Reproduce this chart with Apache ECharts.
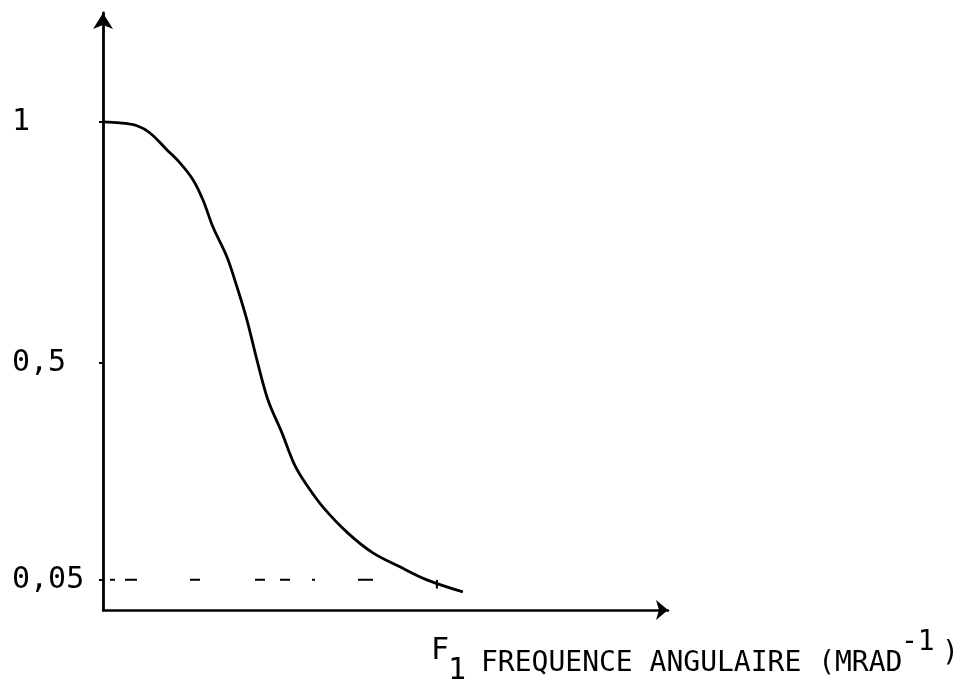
<!DOCTYPE html>
<html>
<head>
<meta charset="utf-8">
<script src="https://cdn.jsdelivr.net/npm/echarts@6/dist/echarts.min.js"></script>
<style>
html,body{margin:0;padding:0;background:#fff;}
#c{width:966px;height:687px;}
</style>
</head>
<body>
<div id="c"></div>
<script>
// Data (x in arbitrary frequency units, y = normalised response)
var curveX = [0, 0.304, 0.608, 0.841, 1.145, 1.377, 1.610, 1.789, 1.968, 2.218, 2.397, 2.576, 2.755, 2.952, 3.202, 3.435, 3.667, 3.936, 4.383, 4.830, 5.313, 5.796, 6.440];
var curveY = [1.0, 0.998, 0.992, 0.977, 0.942, 0.915, 0.880, 0.838, 0.782, 0.720, 0.658, 0.589, 0.506, 0.423, 0.355, 0.287, 0.243, 0.201, 0.147, 0.106, 0.077, 0.050, 0.025];
var yTickValues = [0.05, 0.5, 1];
var yTickLabels = ['0,05', '0,5', '1'];
var thresholdLevel = 0.05;
var thresholdX = [0.125, 5.993];
var crossingX = 5.975;

var curveData = curveX.map(function (x, i) { return [x, curveY[i]]; });

var chart = echarts.init(document.getElementById('c'));
var mono = '"DejaVu Sans Mono", monospace';
chart.setOption({
  animation: false,
  backgroundColor: '#fff',
  grid: { left: 103, right: 298, top: 13, bottom: 77 },
  xAxis: {
    type: 'value', min: 0, max: 10.11,
    axisLine: { onZero: false, symbol: ['none', 'arrow'], symbolSize: [15, 12],
      lineStyle: { color: '#000', width: 2.5 } },
    axisTick: { show: false }, axisLabel: { show: false }, splitLine: { show: false }
  },
  yAxis: {
    type: 'value', min: -0.0125, max: 1.226,
    axisLine: { show: true, symbol: ['none', 'arrow'], symbolSize: [15, 16],
      lineStyle: { color: '#000', width: 2.8 } },
    axisTick: { show: true, length: 4, customValues: yTickValues,
      lineStyle: { color: '#000', width: 2 } },
    axisLabel: {
      customValues: yTickValues, align: 'left', margin: 91,
      fontFamily: mono, fontSize: 30, color: '#000', padding: [0, 0, 6, 0],
      formatter: function (v) {
        var i = yTickValues.indexOf(v);
        return i >= 0 ? yTickLabels[i] : '';
      }
    },
    splitLine: { show: false }
  },
  graphic: [
    { type: 'text', x: 431, y: 651, style: { text: 'F', font: '30px ' + mono, fill: '#000', verticalAlign: 'middle' } },
    { type: 'text', x: 448, y: 671, style: { text: '1', font: '30px ' + mono, fill: '#000', verticalAlign: 'middle' } },
    { type: 'text', x: 481, y: 664, style: { text: 'FREQUENCE ANGULAIRE (MRAD', font: '28px ' + mono, fill: '#000', verticalAlign: 'middle' } },
    { type: 'text', x: 901, y: 643, style: { text: '-1', font: '28px ' + mono, fill: '#000', verticalAlign: 'middle' } },
    { type: 'text', x: 942, y: 654, style: { text: ')', font: '28px ' + mono, fill: '#000', verticalAlign: 'middle' } }
  ],
  series: [
    {
      type: 'line', data: curveData, smooth: 0.35, symbol: 'none',
      lineStyle: { color: '#000', width: 2.8 }
    },
    {
      type: 'line', data: [[thresholdX[0], thresholdLevel], [thresholdX[1], thresholdLevel]],
      symbol: 'none',
      lineStyle: { color: '#000', width: 2, type: [5, 10, 12, 53, 10, 55, 10, 15, 10, 22, 3, 43, 15, 80] }
    },
    {
      type: 'line', data: [[crossingX, thresholdLevel], [crossingX, thresholdLevel - 0.018]],
      symbol: 'none', lineStyle: { color: '#000', width: 2 }
    }
  ]
});
</script>
</body>
</html>
